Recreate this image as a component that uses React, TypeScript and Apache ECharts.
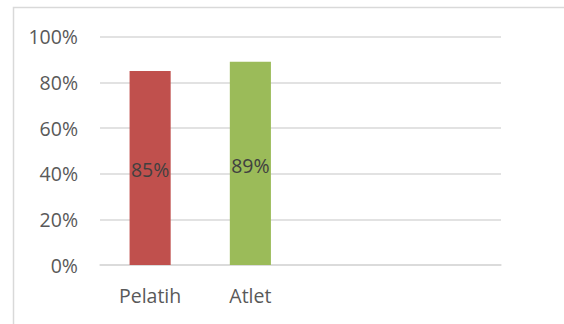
import React, { useEffect, useRef } from "react";
import * as echarts from "echarts";

const categories = ["Pelatih", "Atlet", "", " "];
const values: (number | null)[] = [85, 89, null, null];
const barColors = ["#C0504D", "#9BBB59", "#C0504D", "#C0504D"];
const yTicks = { min: 0, max: 100, interval: 20 };

export default function App() {
  const ref = useRef<HTMLDivElement>(null);
  useEffect(() => {
    document.body.style.margin = "0";
    const chart = echarts.init(ref.current!, undefined, { renderer: "svg" });
    const font = "'Open Sans', 'Noto Sans', sans-serif";
    chart.setOption({
      animation: false,
      backgroundColor: "#ffffff",
      grid: { left: 100, right: 63, top: 36.7, bottom: 59, containLabel: false },
      graphic: [
        {
          type: "rect",
          shape: { x: 13.5, y: 7.5, width: 700, height: 500 },
          style: { fill: "none", stroke: "#d9d9d9", lineWidth: 1.5 },
          silent: true,
        },
      ],
      xAxis: {
        type: "category",
        data: categories,
        axisLine: { show: true, lineStyle: { color: "#d9d9d9", width: 1.5 } },
        axisTick: { show: false },
        axisLabel: { color: "#595959", fontSize: 19.5, fontFamily: font, margin: 20 },
      },
      yAxis: {
        type: "value",
        min: yTicks.min,
        max: yTicks.max,
        interval: yTicks.interval,
        axisLine: { show: false },
        axisTick: { show: false },
        splitLine: { lineStyle: { color: "#d9d9d9", width: 1.5 } },
        axisLabel: {
          color: "#595959",
          fontSize: 19.5,
          fontFamily: font,
          margin: 22,
          formatter: "{value}%",
        },
      },
      series: [
        {
          type: "bar",
          barWidth: "41%",
          data: values.map((v, i) => ({ value: v, itemStyle: { color: barColors[i] } })),
          label: {
            show: true,
            position: "inside",
            offset: [0, 2],
            color: "#404040",
            fontSize: 19.5,
            fontFamily: font,
            formatter: (p: any) => (p.value == null ? "" : p.value + "%"),
          },
        },
      ],
    });
    return () => chart.dispose();
  }, []);
  return <div ref={ref} style={{ width: 564, height: 324 }} />;
}
